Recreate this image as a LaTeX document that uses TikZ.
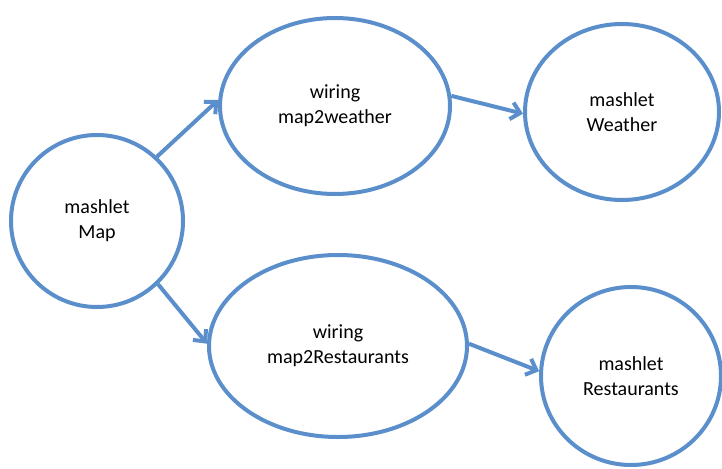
\documentclass[tikz,border=0pt]{standalone}
\usepackage{fontspec}
\setmainfont{Carlito}
\usetikzlibrary{shapes.geometric, arrows.meta}
\definecolor{mashblue}{HTML}{5A8FCB}

\begin{document}
\begin{tikzpicture}[x=1pt, y=-1pt,
        blob/.style={ellipse, draw=mashblue, line width=4pt, inner sep=0pt, align=center, font=\fontsize{20}{25}\selectfont},
        link/.style={-{Straight Barb[length=9pt, width=17pt]}, line width=4pt, mashblue}]
      \useasboundingbox (0,0) rectangle (722,468);
      % Mashlets
      \node[blob, minimum width=172pt, minimum height=172pt] (map) at (97,221) {mashlet\\Map};
      \node[blob, minimum width=194pt, minimum height=176pt] (weather) at (622,112) {mashlet\\Weather};
      \node[blob, minimum width=180pt, minimum height=178pt] (restaurants) at (631,376) {mashlet\\Restaurants};
      % Wirings
      \node[blob, minimum width=230pt, minimum height=176pt] (w2weather) at (335,106) {wiring\\map2weather};
      \node[blob, minimum width=258pt, minimum height=182pt] (w2restaurants) at (338,346) {wiring\\map2Restaurants};

      \draw[link] (map.47) -- (w2weather.177);
      \draw[link] (map.-46) -- (w2restaurants.179);
      \draw[link] (w2weather.5) -- (weather.181);
      \draw[link] (w2restaurants.1) -- (restaurants.177);
    \end{tikzpicture}
\end{document}
